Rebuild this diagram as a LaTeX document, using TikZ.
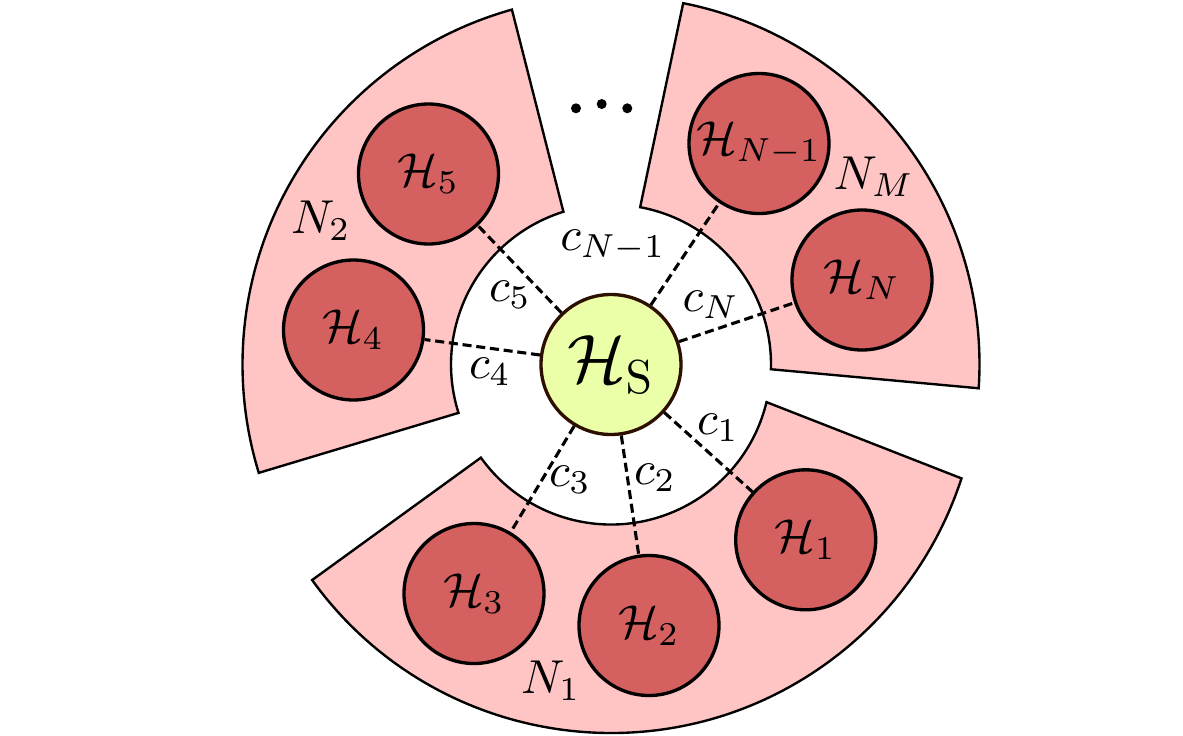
\documentclass[tikz,border=0pt]{standalone}
\usetikzlibrary{calc}
\definecolor{sectorfill}{RGB}{255,197,197}
\definecolor{hfill}{RGB}{212,96,96}
\definecolor{hsfill}{RGB}{234,255,168}
\definecolor{hsdraw}{RGB}{45,15,0}
\tikzset{
  sector/.style={draw=black, fill=sectorfill, line width=0.5pt, line join=miter},
  hnode/.style={circle, draw=black, fill=hfill, line width=0.7pt, minimum size=29.4pt, inner sep=0pt},
  hsnode/.style={circle, draw=hsdraw, fill=hsfill, line width=0.7pt, minimum size=29.4pt, inner sep=0pt},
  conn/.style={line width=0.65pt, dash pattern=on 1.9pt off 1pt},
  lbl/.style={inner sep=0pt},
}
\begin{document}
\begin{tikzpicture}[x=0.21pt,y=0.21pt]
\useasboundingbox (-611,-370.5) rectangle (572,364.5);
% sectors
\path[sector] (215.6:160) -- (215.8:368.5) arc[start angle=215.8, end angle=342, radius=368.5]
  -- (346.4:160) arc[start angle=346.4, end angle=215.6, radius=160] -- cycle;
\path[sector] (107.3:160) -- (105.6:368.5) arc[start angle=105.6, end angle=197.1, radius=368.5]
  -- (197.6:160) arc[start angle=197.6, end angle=107.3, radius=160] -- cycle;
\path[sector] (-1.7:160) -- (-3.7:368.5) arc[start angle=-3.7, end angle=78.7, radius=368.5]
  -- (79.5:160) arc[start angle=79.5, end angle=-1.7, radius=160] -- cycle;
% nodes
\node[hsnode] (HS) at (0,0) {\Large$\mathcal{H}_\mathrm{S}$};
\node[hnode] (H1) at (-42:262) {$\mathcal{H}_1$};
\node[hnode] (H2) at (38,-261) {$\mathcal{H}_2$};
\node[hnode] (H3) at (-137,-229) {$\mathcal{H}_3$};
\node[hnode] (H4) at (-257.5,34.5) {$\mathcal{H}_4$};
\node[hnode] (H5) at (-182.5,190.5) {$\mathcal{H}_5$};
\node[hnode] (HNm) at (148,221) {$\mathcal{H}_{N-1}$};
\node[hnode] (HN) at (251,84.5) {$\mathcal{H}_N$};
% connectors
\draw[conn] (HS) -- (H1);
\draw[conn] (HS) -- (H2);
\draw[conn] (HS) -- (H3);
\draw[conn] (HS) -- (H4);
\draw[conn] (HS) -- (H5);
\draw[conn] (HS) -- (HNm);
\draw[conn] (HS) -- (HN);
% connector labels
\node[lbl] (c1) at (107,-63.5) {$c_1$};
\node[lbl] (c2) at (44,-113.5) {$c_2$};
\node[lbl] (c3) at (-41,-115.5) {$c_3$};
\node[lbl] (c4) at (-121,-7.5) {$c_4$};
\node[lbl] (c5) at (-101,69.5) {$c_5$};
\node[lbl] (cNm) at (2,118.5) {$c_{N-1}$};
\node[lbl] (cN) at (100,59.5) {$c_N$};
% sector labels
\node[lbl] (N1) at (-60,-316.5) {$N_1$};
\node[lbl] (N2) at (-290,143.5) {$N_2$};
\node[lbl] (NM) at (263,187.5) {$N_M$};
% dots
\fill (-35,256.2) circle[radius=5];
\fill (-9.3,260.5) circle[radius=5];
\fill (16.3,256.2) circle[radius=5];
\end{tikzpicture}
\end{document}
